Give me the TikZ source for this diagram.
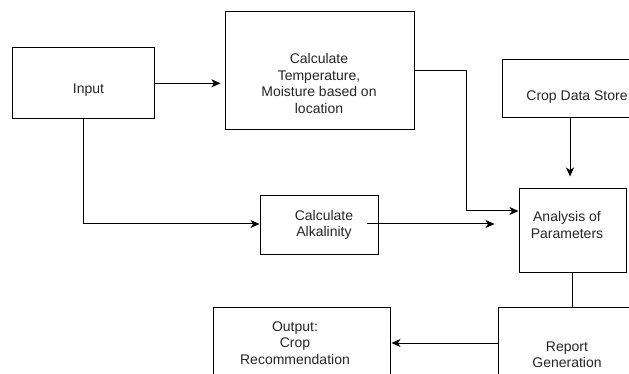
\documentclass[tikz,border=0pt]{standalone}
\usepackage{fontspec}
\setmainfont{Liberation Sans}
\usetikzlibrary{arrows.meta}
\begin{document}
\begin{tikzpicture}[x=1pt,y=-1pt,
  box/.style={draw=black,line width=1pt,fill=white,inner sep=0pt},
  txt/.style={font=\fontsize{14}{16.5}\selectfont,align=center,inner sep=0pt,text=black!85},
  conn/.style={draw=black,line width=1pt},
  arr/.style={conn,-{Stealth[length=9pt,width=8pt,inset=2.5pt]}}]
\useasboundingbox (0,0) rectangle (629,374);
\clip (0,0) rectangle (629,374);
\fill[white] (0,0) rectangle (629,374);
% boxes
\node[box,minimum width=142pt,minimum height=71pt] (inp) at (83,83.5) {};
\node[box,minimum width=189pt,minimum height=118pt] (temp) at (319.5,71) {};
\node[box,minimum width=150pt,minimum height=58pt] (store) at (577,89) {};
\node[box,minimum width=107pt,minimum height=83pt] (ana) at (572.5,230.5) {};
\node[box,minimum width=118pt,minimum height=58pt] (alk) at (319,225) {};
\node[box,minimum width=177pt,minimum height=72pt] (out) at (301.5,343) {};
\node[box,minimum width=138pt,minimum height=96pt] (rep) at (567,355) {};
% texts
\node[txt] (tinp) at (88.5,90) {Input};
\node[txt] (ttemp) at (319,83.5) {Calculate\\Temperature,\\Moisture based on\\location};
\node[txt] (tstore) at (577,97) {Crop Data Store};
\node[txt] (tana) at (567,225) {Analysis of\\Parameters};
\node[txt] (talk) at (324,225) {Calculate\\Alkalinity};
\node[txt] (tout) at (295,343) {Output:\\Crop\\Recommendation};
\node[txt] (trep) at (567,355) {Report\\Generation};
% connectors
\coordinate (c1) at (466,71);
\coordinate (c2) at (466,211);
\draw[arr,shorten >=4pt] (inp.east |- 0,83.3) -- (temp.west |- 0,83.3);
\draw[arr] (temp.east |- c1) -- (c1) -- (c2) -- (ana.west |- c2);
\draw[arr,shorten >=12pt] (store.south -| 570,0) -- (ana.north -| 570,0);
\draw[arr] (inp.south) |- (alk.west |- 0,224);
\draw[arr,shorten >=24pt] ([xshift=-12pt]alk.east |- 0,224) -- (ana.west |- 0,224);
\draw[conn] (ana.south) -- (rep.north -| ana.south);
\draw[arr,shorten >=1pt] (rep.west |- 0,343) -- (out.east |- 0,343);
\end{tikzpicture}
\end{document}
